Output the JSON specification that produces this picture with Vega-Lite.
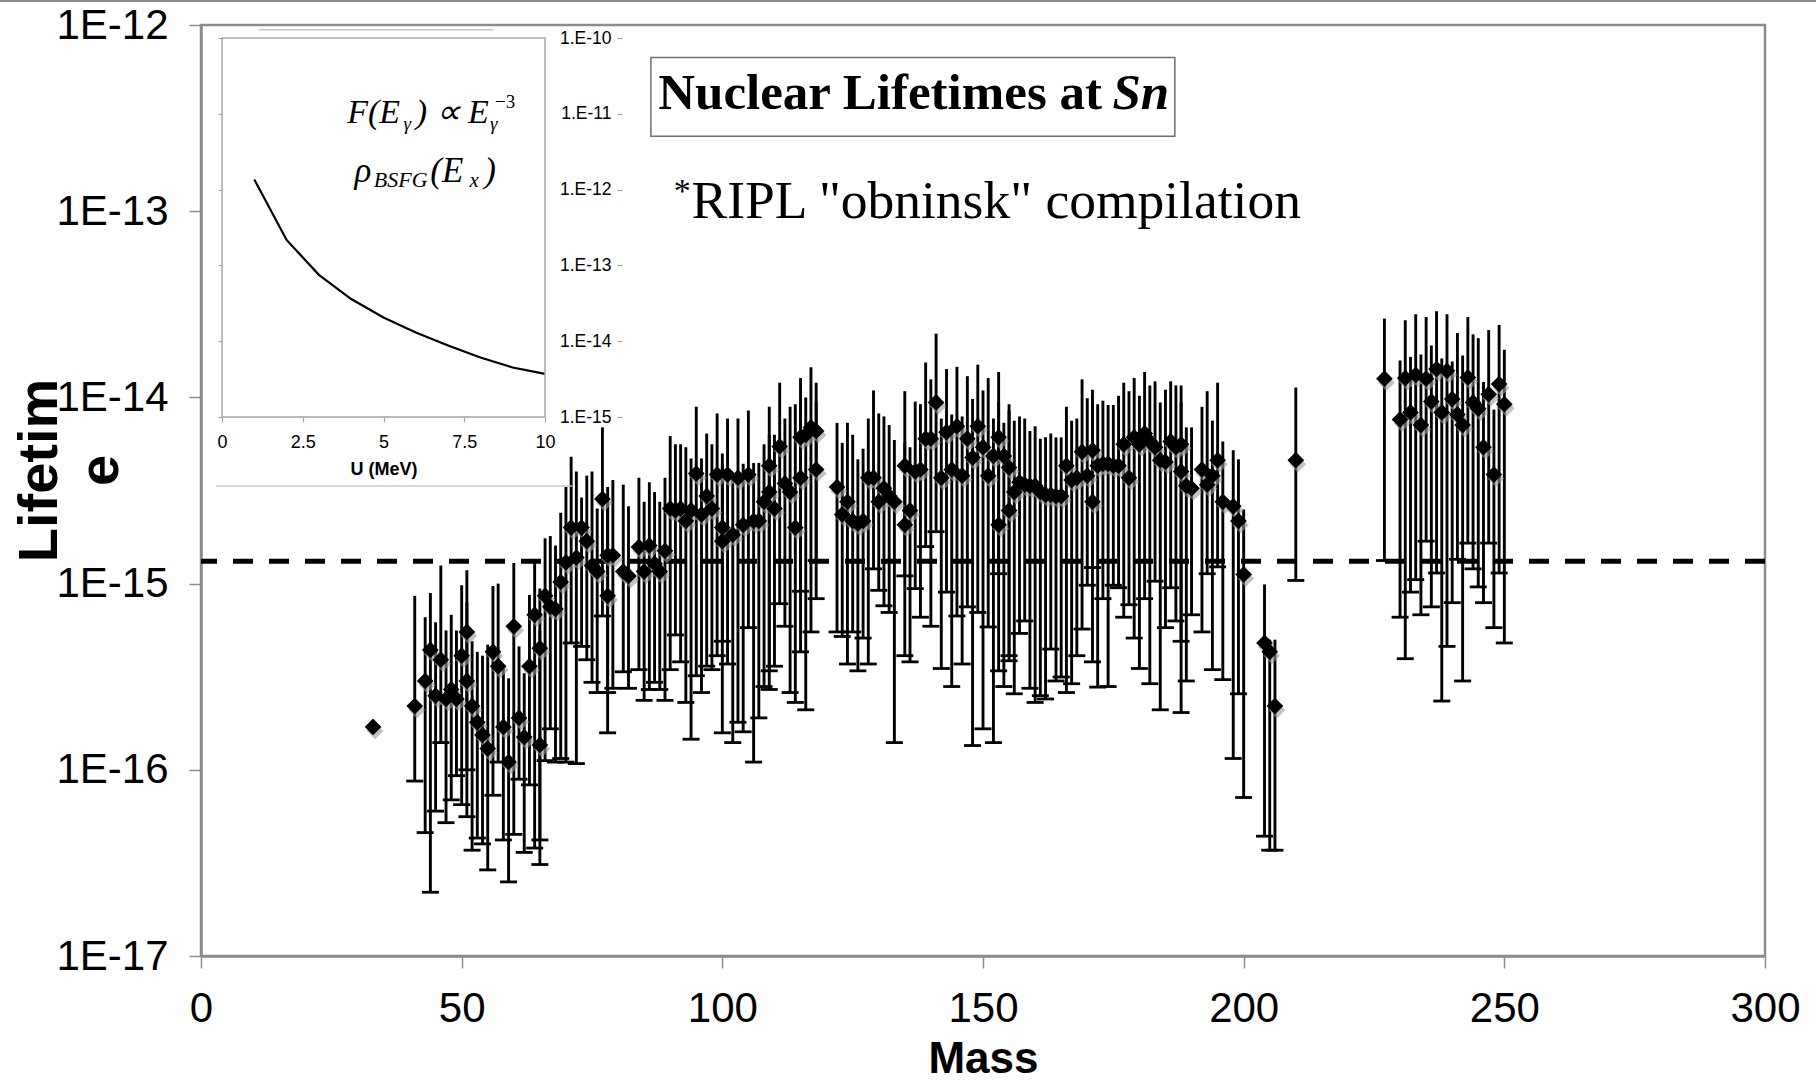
{
  "$schema": "https://vega.github.io/schema/vega-lite/v6.json",
  "width": 1564,
  "height": 931,
  "autosize": {"type": "none"},
  "padding": {"left": 201, "top": 25, "right": 51, "bottom": 126},
  "background": "white",
  "config": {
    "view": {"stroke": "#8c8c8c", "strokeWidth": 2.5},
    "axis": {"labelFont": "Liberation Sans", "titleFont": "Liberation Sans", "labelColor": "black", "titleColor": "black", "grid": false}
  },
  "datasets": {
    "lifetimes": [
      {"Mass":33,"Lifetime":1.7e-16,"Lower":null,"Upper":null},
      {"Mass":41,"Lifetime":2.2e-16,"Lower":8.7e-17,"Upper":8.6e-16},
      {"Mass":43,"Lifetime":3.0e-16,"Lower":4.6e-17,"Upper":6.6e-16},
      {"Mass":44,"Lifetime":4.4e-16,"Lower":2.2e-17,"Upper":8.9e-16},
      {"Mass":45,"Lifetime":2.5e-16,"Lower":6.0e-17,"Upper":6.2e-16},
      {"Mass":46,"Lifetime":3.9e-16,"Lower":1.4e-16,"Upper":1.25e-15},
      {"Mass":47,"Lifetime":2.4e-16,"Lower":5.2e-17,"Upper":5.6e-16},
      {"Mass":48,"Lifetime":2.7e-16,"Lower":6.9e-17,"Upper":6.8e-16},
      {"Mass":49,"Lifetime":2.4e-16,"Lower":9.3e-17,"Upper":5.6e-16},
      {"Mass":50,"Lifetime":4.1e-16,"Lower":6.5e-17,"Upper":9.8e-16},
      {"Mass":51,"Lifetime":5.5e-16,"Lower":5.6e-17,"Upper":1.18e-15},
      {"Mass":51,"Lifetime":3.0e-16,"Lower":1.0e-16,"Upper":7.9e-16},
      {"Mass":52,"Lifetime":2.2e-16,"Lower":3.7e-17,"Upper":4.9e-16},
      {"Mass":53,"Lifetime":1.8e-16,"Lower":4.3e-17,"Upper":4.3e-16},
      {"Mass":54,"Lifetime":1.54e-16,"Lower":4.0e-17,"Upper":4.1e-16},
      {"Mass":55,"Lifetime":1.3e-16,"Lower":2.9e-17,"Upper":4.7e-16},
      {"Mass":56,"Lifetime":4.3e-16,"Lower":7.3e-17,"Upper":9.7e-16},
      {"Mass":57,"Lifetime":3.6e-16,"Lower":1.1e-16,"Upper":1.0e-15},
      {"Mass":58,"Lifetime":1.7e-16,"Lower":4.2e-17,"Upper":3.5e-16},
      {"Mass":59,"Lifetime":1.1e-16,"Lower":2.5e-17,"Upper":3.1e-16},
      {"Mass":60,"Lifetime":5.9e-16,"Lower":4.5e-17,"Upper":1.29e-15},
      {"Mass":61,"Lifetime":1.9e-16,"Lower":8.9e-17,"Upper":4.6e-16},
      {"Mass":62,"Lifetime":1.5e-16,"Lower":3.6e-17,"Upper":3.3e-16},
      {"Mass":63,"Lifetime":3.6e-16,"Lower":8.3e-17,"Upper":8.7e-16},
      {"Mass":64,"Lifetime":6.8e-16,"Lower":3.8e-17,"Upper":1.34e-15},
      {"Mass":65,"Lifetime":4.5e-16,"Lower":3.1e-17,"Upper":9.4e-16},
      {"Mass":65,"Lifetime":1.36e-16,"Lower":4.2e-17,"Upper":5.6e-16},
      {"Mass":66,"Lifetime":8.6e-16,"Lower":1.12e-16,"Upper":1.75e-15},
      {"Mass":67,"Lifetime":7.5e-16,"Lower":1.66e-16,"Upper":1.8e-15},
      {"Mass":68,"Lifetime":7.3e-16,"Lower":1.1e-16,"Upper":1.6e-15},
      {"Mass":69,"Lifetime":1.02e-15,"Lower":1.15e-16,"Upper":2.4e-15},
      {"Mass":70,"Lifetime":1.3e-15,"Lower":1.1e-16,"Upper":3.3e-15},
      {"Mass":71,"Lifetime":2.0e-15,"Lower":4.8e-16,"Upper":4.8e-15},
      {"Mass":72,"Lifetime":1.38e-15,"Lower":1.08e-16,"Upper":4.0e-15},
      {"Mass":73,"Lifetime":2.0e-15,"Lower":4.6e-16,"Upper":2.9e-15},
      {"Mass":74,"Lifetime":1.69e-15,"Lower":3.9e-16,"Upper":3.8e-15},
      {"Mass":75,"Lifetime":1.25e-15,"Lower":2.95e-16,"Upper":4.0e-15},
      {"Mass":76,"Lifetime":1.16e-15,"Lower":2.6e-16,"Upper":2.53e-15},
      {"Mass":77,"Lifetime":2.85e-15,"Lower":6.7e-16,"Upper":6.9e-15},
      {"Mass":78,"Lifetime":8.6e-16,"Lower":1.58e-16,"Upper":2.75e-15},
      {"Mass":78,"Lifetime":1.42e-15,"Lower":2.6e-16,"Upper":3.3e-15},
      {"Mass":79,"Lifetime":1.42e-15,"Lower":2.74e-16,"Upper":3.6e-15},
      {"Mass":81,"Lifetime":1.16e-15,"Lower":3.36e-16,"Upper":3.4e-15},
      {"Mass":82,"Lifetime":1.1e-15,"Lower":2.74e-16,"Upper":2.6e-15},
      {"Mass":84,"Lifetime":1.57e-15,"Lower":3.45e-16,"Upper":3.7e-15},
      {"Mass":85,"Lifetime":1.16e-15,"Lower":2.36e-16,"Upper":2.75e-15},
      {"Mass":86,"Lifetime":1.6e-15,"Lower":2.7e-16,"Upper":3.5e-15},
      {"Mass":87,"Lifetime":1.28e-15,"Lower":2.95e-16,"Upper":3.1e-15},
      {"Mass":88,"Lifetime":1.16e-15,"Lower":2.7e-16,"Upper":2.75e-15},
      {"Mass":89,"Lifetime":1.5e-15,"Lower":2.36e-16,"Upper":3.7e-15},
      {"Mass":90,"Lifetime":2.53e-15,"Lower":3.45e-16,"Upper":6.2e-15},
      {"Mass":91,"Lifetime":2.47e-15,"Lower":5.3e-16,"Upper":5.6e-15},
      {"Mass":92,"Lifetime":2.53e-15,"Lower":3.8e-16,"Upper":5.6e-15},
      {"Mass":93,"Lifetime":2.17e-15,"Lower":2.3e-16,"Upper":5.4e-15},
      {"Mass":94,"Lifetime":2.47e-15,"Lower":1.46e-16,"Upper":4.7e-15},
      {"Mass":95,"Lifetime":3.9e-15,"Lower":3.2e-16,"Upper":8.9e-15},
      {"Mass":96,"Lifetime":2.35e-15,"Lower":2.6e-16,"Upper":4.7e-15},
      {"Mass":97,"Lifetime":2.95e-15,"Lower":3.6e-16,"Upper":6.4e-15},
      {"Mass":98,"Lifetime":2.53e-15,"Lower":3.45e-16,"Upper":5.6e-15},
      {"Mass":99,"Lifetime":3.85e-15,"Lower":4.1e-16,"Upper":8.2e-15},
      {"Mass":100,"Lifetime":2.0e-15,"Lower":1.58e-16,"Upper":5.0e-15},
      {"Mass":100,"Lifetime":1.69e-15,"Lower":4.9e-16,"Upper":4.4e-15},
      {"Mass":101,"Lifetime":3.85e-15,"Lower":3.7e-16,"Upper":7.7e-15},
      {"Mass":102,"Lifetime":1.83e-15,"Lower":1.4e-16,"Upper":3.6e-15},
      {"Mass":103,"Lifetime":3.7e-15,"Lower":1.8e-16,"Upper":7.7e-15},
      {"Mass":104,"Lifetime":2.07e-15,"Lower":1.6e-16,"Upper":4.4e-15},
      {"Mass":105,"Lifetime":3.85e-15,"Lower":5.8e-16,"Upper":8.5e-15},
      {"Mass":106,"Lifetime":2.17e-15,"Lower":1.1e-16,"Upper":4.45e-15},
      {"Mass":107,"Lifetime":2.17e-15,"Lower":1.9e-16,"Upper":4.45e-15},
      {"Mass":108,"Lifetime":2.75e-15,"Lower":2.8e-16,"Upper":5.6e-15},
      {"Mass":109,"Lifetime":4.3e-15,"Lower":2.7e-16,"Upper":8.9e-15},
      {"Mass":109,"Lifetime":3.1e-15,"Lower":3.4e-16,"Upper":6.3e-15},
      {"Mass":110,"Lifetime":2.53e-15,"Lower":3.6e-16,"Upper":6.3e-15},
      {"Mass":111,"Lifetime":5.45e-15,"Lower":7.8e-16,"Upper":1.2e-14},
      {"Mass":112,"Lifetime":3.45e-15,"Lower":5.9e-16,"Upper":7.7e-15},
      {"Mass":113,"Lifetime":3.1e-15,"Lower":2.6e-16,"Upper":8.9e-15},
      {"Mass":114,"Lifetime":2.0e-15,"Lower":2.3e-16,"Upper":9.2e-15},
      {"Mass":115,"Lifetime":6.1e-15,"Lower":9.1e-16,"Upper":1.27e-14},
      {"Mass":115,"Lifetime":3.7e-15,"Lower":4.3e-16,"Upper":9.4e-15},
      {"Mass":116,"Lifetime":6.3e-15,"Lower":2.1e-16,"Upper":1.0e-14},
      {"Mass":117,"Lifetime":6.9e-15,"Lower":5.5e-16,"Upper":1.45e-14},
      {"Mass":118,"Lifetime":4.1e-15,"Lower":1.33e-15,"Upper":9.5e-15},
      {"Mass":118,"Lifetime":6.6e-15,"Lower":8.3e-16,"Upper":1.2e-14},
      {"Mass":122,"Lifetime":3.3e-15,"Lower":5.5e-16,"Upper":7.3e-15},
      {"Mass":123,"Lifetime":2.35e-15,"Lower":5.2e-16,"Upper":5.7e-15},
      {"Mass":124,"Lifetime":2.75e-15,"Lower":3.7e-16,"Upper":7.3e-15},
      {"Mass":125,"Lifetime":2.17e-15,"Lower":5.5e-16,"Upper":6.3e-15},
      {"Mass":126,"Lifetime":2.1e-15,"Lower":3.4e-16,"Upper":4.65e-15},
      {"Mass":127,"Lifetime":2.17e-15,"Lower":5.1e-16,"Upper":5.3e-15},
      {"Mass":128,"Lifetime":3.7e-15,"Lower":3.7e-16,"Upper":7.7e-15},
      {"Mass":129,"Lifetime":3.7e-15,"Lower":1.2e-15,"Upper":1.09e-14},
      {"Mass":130,"Lifetime":2.75e-15,"Lower":9.2e-16,"Upper":8.2e-15},
      {"Mass":131,"Lifetime":3.25e-15,"Lower":7.6e-16,"Upper":7.9e-15},
      {"Mass":132,"Lifetime":2.95e-15,"Lower":7.0e-16,"Upper":7.1e-15},
      {"Mass":133,"Lifetime":2.75e-15,"Lower":1.4e-16,"Upper":5.9e-15},
      {"Mass":135,"Lifetime":4.3e-15,"Lower":1.1e-15,"Upper":1.08e-14},
      {"Mass":135,"Lifetime":2.07e-15,"Lower":4.1e-16,"Upper":5.7e-15},
      {"Mass":136,"Lifetime":2.47e-15,"Lower":3.8e-16,"Upper":5.4e-15},
      {"Mass":137,"Lifetime":4.0e-15,"Lower":9.4e-16,"Upper":9.5e-15},
      {"Mass":138,"Lifetime":4.1e-15,"Lower":6.6e-16,"Upper":9.2e-15},
      {"Mass":139,"Lifetime":6.0e-15,"Lower":1.58e-15,"Upper":1.54e-14},
      {"Mass":140,"Lifetime":6.0e-15,"Lower":5.9e-16,"Upper":1.25e-14},
      {"Mass":141,"Lifetime":9.4e-15,"Lower":1.9e-15,"Upper":2.2e-14},
      {"Mass":142,"Lifetime":3.7e-15,"Lower":3.5e-16,"Upper":7.7e-15},
      {"Mass":143,"Lifetime":6.5e-15,"Lower":9.0e-16,"Upper":1.42e-14},
      {"Mass":144,"Lifetime":4.1e-15,"Lower":2.8e-16,"Upper":8.1e-15},
      {"Mass":145,"Lifetime":7.0e-15,"Lower":6.7e-16,"Upper":1.46e-14},
      {"Mass":146,"Lifetime":3.8e-15,"Lower":3.7e-16,"Upper":7.9e-15},
      {"Mass":147,"Lifetime":6.0e-15,"Lower":7.5e-16,"Upper":1.3e-14},
      {"Mass":148,"Lifetime":4.75e-15,"Lower":1.35e-16,"Upper":9.8e-15},
      {"Mass":149,"Lifetime":7.0e-15,"Lower":7.0e-16,"Upper":1.5e-14},
      {"Mass":150,"Lifetime":5.4e-15,"Lower":1.66e-16,"Upper":1.09e-14},
      {"Mass":151,"Lifetime":3.8e-15,"Lower":5.85e-16,"Upper":1.27e-14},
      {"Mass":152,"Lifetime":4.85e-15,"Lower":1.4e-16,"Upper":7.7e-15},
      {"Mass":153,"Lifetime":6.1e-15,"Lower":3.4e-16,"Upper":1.37e-14},
      {"Mass":153,"Lifetime":2.07e-15,"Lower":1.13e-15,"Upper":9.4e-15},
      {"Mass":154,"Lifetime":4.85e-15,"Lower":2.8e-16,"Upper":7.3e-15},
      {"Mass":155,"Lifetime":4.2e-15,"Lower":3.85e-16,"Upper":9.2e-15},
      {"Mass":155,"Lifetime":2.47e-15,"Lower":4.1e-16,"Upper":8.5e-15},
      {"Mass":156,"Lifetime":3.1e-15,"Lower":2.56e-16,"Upper":7.5e-15},
      {"Mass":157,"Lifetime":3.5e-15,"Lower":5.4e-16,"Upper":7.9e-15},
      {"Mass":158,"Lifetime":3.4e-15,"Lower":6.3e-16,"Upper":7.7e-15},
      {"Mass":159,"Lifetime":3.35e-15,"Lower":2.74e-16,"Upper":6.6e-15},
      {"Mass":160,"Lifetime":3.35e-15,"Lower":2.3e-16,"Upper":7.0e-15},
      {"Mass":161,"Lifetime":3.1e-15,"Lower":2.5e-16,"Upper":6.0e-15},
      {"Mass":162,"Lifetime":3.0e-15,"Lower":2.4e-16,"Upper":6.1e-15},
      {"Mass":163,"Lifetime":3.0e-15,"Lower":4.45e-16,"Upper":6.4e-15},
      {"Mass":164,"Lifetime":2.95e-15,"Lower":3.0e-16,"Upper":6.1e-15},
      {"Mass":165,"Lifetime":2.95e-15,"Lower":3.15e-16,"Upper":6.1e-15},
      {"Mass":166,"Lifetime":4.3e-15,"Lower":2.6e-16,"Upper":8.9e-15},
      {"Mass":167,"Lifetime":3.6e-15,"Lower":2.9e-16,"Upper":7.5e-15},
      {"Mass":168,"Lifetime":3.7e-15,"Lower":4.1e-16,"Upper":7.7e-15},
      {"Mass":169,"Lifetime":5.1e-15,"Lower":5.7e-16,"Upper":1.25e-14},
      {"Mass":170,"Lifetime":3.8e-15,"Lower":9.8e-16,"Upper":9.9e-15},
      {"Mass":171,"Lifetime":5.2e-15,"Lower":3.8e-16,"Upper":1.1e-14},
      {"Mass":171,"Lifetime":2.75e-15,"Lower":1.22e-15,"Upper":9.4e-15},
      {"Mass":172,"Lifetime":4.3e-15,"Lower":2.78e-16,"Upper":9.2e-15},
      {"Mass":173,"Lifetime":4.4e-15,"Lower":8.3e-16,"Upper":9.6e-15},
      {"Mass":174,"Lifetime":4.4e-15,"Lower":2.8e-16,"Upper":9.1e-15},
      {"Mass":175,"Lifetime":4.3e-15,"Lower":9.8e-16,"Upper":9.1e-15},
      {"Mass":176,"Lifetime":4.3e-15,"Lower":9.5e-16,"Upper":1.02e-14},
      {"Mass":177,"Lifetime":5.6e-15,"Lower":6.6e-16,"Upper":1.2e-14},
      {"Mass":178,"Lifetime":3.7e-15,"Lower":7.7e-16,"Upper":1.08e-14},
      {"Mass":179,"Lifetime":6.1e-15,"Lower":5.1e-16,"Upper":1.27e-14},
      {"Mass":180,"Lifetime":5.6e-15,"Lower":3.5e-16,"Upper":1.02e-14},
      {"Mass":181,"Lifetime":6.4e-15,"Lower":8.3e-16,"Upper":1.37e-14},
      {"Mass":182,"Lifetime":5.8e-15,"Lower":2.9e-16,"Upper":1.16e-14},
      {"Mass":183,"Lifetime":5.4e-15,"Lower":1.03e-15,"Upper":1.22e-14},
      {"Mass":184,"Lifetime":4.6e-15,"Lower":2.1e-16,"Upper":9.4e-15},
      {"Mass":185,"Lifetime":4.5e-15,"Lower":5.8e-16,"Upper":1.1e-14},
      {"Mass":186,"Lifetime":5.8e-15,"Lower":9.5e-16,"Upper":1.22e-14},
      {"Mass":187,"Lifetime":5.4e-15,"Lower":6.3e-16,"Upper":1.16e-14},
      {"Mass":188,"Lifetime":5.6e-15,"Lower":4.9e-16,"Upper":1.16e-14},
      {"Mass":188,"Lifetime":4.0e-15,"Lower":2.03e-16,"Upper":9.4e-15},
      {"Mass":189,"Lifetime":3.35e-15,"Lower":3.0e-16,"Upper":6.9e-15},
      {"Mass":190,"Lifetime":3.25e-15,"Lower":6.8e-16,"Upper":6.9e-15},
      {"Mass":192,"Lifetime":4.1e-15,"Lower":5.5e-16,"Upper":8.9e-15},
      {"Mass":193,"Lifetime":3.4e-15,"Lower":1.13e-15,"Upper":1.08e-14},
      {"Mass":194,"Lifetime":3.8e-15,"Lower":3.45e-16,"Upper":7.5e-15},
      {"Mass":195,"Lifetime":4.6e-15,"Lower":1.23e-15,"Upper":1.2e-14},
      {"Mass":196,"Lifetime":2.75e-15,"Lower":3.05e-16,"Upper":5.8e-15},
      {"Mass":198,"Lifetime":2.6e-15,"Lower":1.15e-16,"Upper":5.2e-15},
      {"Mass":199,"Lifetime":2.17e-15,"Lower":2.56e-16,"Upper":4.65e-15},
      {"Mass":200,"Lifetime":1.12e-15,"Lower":7.1e-17,"Upper":2.5e-15},
      {"Mass":204,"Lifetime":4.8e-16,"Lower":4.4e-17,"Upper":9.9e-16},
      {"Mass":205,"Lifetime":4.3e-16,"Lower":3.7e-17,"Upper":5.0e-16},
      {"Mass":206,"Lifetime":2.2e-16,"Lower":3.7e-17,"Upper":5.0e-16},
      {"Mass":210,"Lifetime":4.6e-15,"Lower":1.04e-15,"Upper":1.13e-14},
      {"Mass":227,"Lifetime":1.26e-14,"Lower":1.33e-15,"Upper":2.65e-14},
      {"Mass":230,"Lifetime":7.6e-15,"Lower":6.6e-16,"Upper":1.58e-14},
      {"Mass":231,"Lifetime":1.27e-14,"Lower":3.95e-16,"Upper":2.6e-14},
      {"Mass":232,"Lifetime":8.3e-15,"Lower":9.0e-16,"Upper":1.65e-14},
      {"Mass":233,"Lifetime":1.32e-14,"Lower":1.05e-15,"Upper":2.8e-14},
      {"Mass":234,"Lifetime":7.1e-15,"Lower":6.8e-16,"Upper":1.7e-14},
      {"Mass":235,"Lifetime":1.26e-14,"Lower":1.69e-15,"Upper":2.7e-14},
      {"Mass":236,"Lifetime":9.5e-15,"Lower":7.5e-16,"Upper":1.9e-14},
      {"Mass":237,"Lifetime":1.42e-14,"Lower":1.14e-15,"Upper":2.9e-14},
      {"Mass":238,"Lifetime":8.3e-15,"Lower":2.34e-16,"Upper":1.62e-14},
      {"Mass":239,"Lifetime":1.39e-14,"Lower":4.6e-16,"Upper":2.8e-14},
      {"Mass":240,"Lifetime":9.8e-15,"Lower":7.9e-16,"Upper":1.56e-14},
      {"Mass":241,"Lifetime":8.1e-15,"Lower":1.35e-15,"Upper":2.22e-14},
      {"Mass":242,"Lifetime":7.1e-15,"Lower":3.0e-16,"Upper":1.68e-14},
      {"Mass":243,"Lifetime":1.28e-14,"Lower":1.65e-15,"Upper":2.7e-14},
      {"Mass":244,"Lifetime":9.4e-15,"Lower":1.2e-15,"Upper":2.18e-14},
      {"Mass":245,"Lifetime":8.7e-15,"Lower":9.6e-16,"Upper":2.08e-14},
      {"Mass":246,"Lifetime":5.4e-15,"Lower":7.9e-16,"Upper":1.21e-14},
      {"Mass":247,"Lifetime":1.04e-14,"Lower":1.65e-15,"Upper":2.3e-14},
      {"Mass":248,"Lifetime":3.85e-15,"Lower":5.8e-16,"Upper":8.6e-15},
      {"Mass":249,"Lifetime":1.18e-14,"Lower":1.14e-15,"Upper":2.45e-14},
      {"Mass":250,"Lifetime":9.2e-15,"Lower":4.8e-16,"Upper":1.8e-14}
    ],
    "inset": [
      {"U":1,"F":1.36e-12},
      {"U":2,"F":2.17e-13},
      {"U":3,"F":7.5e-14},
      {"U":4,"F":3.6e-14},
      {"U":5,"F":2.06e-14},
      {"U":6,"F":1.3e-14},
      {"U":7,"F":8.8e-15},
      {"U":8,"F":6.1e-15},
      {"U":9,"F":4.5e-15},
      {"U":10,"F":3.7e-15}
    ]
  },
  "resolve": {
    "scale": {"x": "independent", "y": "independent"},
    "axis": {"x": "independent", "y": "independent"}
  },
  "layer": [
    {
      "data": {"name": "lifetimes"},
      "layer": [
        {
          "mark": {"type": "rule", "color": "black", "strokeWidth": 2.9},
          "encoding": {
            "x": {
              "field": "Mass", "type": "quantitative",
              "scale": {"domain": [0, 300], "nice": false, "zero": false},
              "axis": {
                "orient": "bottom", "title": "Mass",
                "values": [0, 50, 100, 150, 200, 250, 300],
                "labelFontSize": 42, "labelPadding": 20, "labelFlush": false, "labelOverlap": false,
                "tickSize": 12, "tickColor": "#8c8c8c", "tickWidth": 1.5,
                "domainColor": "#8c8c8c", "domainWidth": 2.5,
                "titleFontSize": 44, "titleFontWeight": "bold", "titleBaseline": "alphabetic", "titleY": 116
              }
            },
            "y": {
              "field": "Lower", "type": "quantitative",
              "scale": {"type": "log", "domain": [1e-17, 1e-12], "nice": false},
              "axis": {
                "orient": "left", "title": ["Lifetim", "e"],
                "values": [1e-17, 1e-16, 1e-15, 1e-14, 1e-13, 1e-12],
                "labelExpr": "'1E' + round(log(datum.value) / LN10)",
                "labelFontSize": 42, "labelPadding": 21, "labelFlush": false, "labelOverlap": false,
                "tickSize": 12, "tickColor": "#8c8c8c", "tickWidth": 1.5,
                "domainColor": "#8c8c8c", "domainWidth": 2.5,
                "titleFontSize": 56, "titleFontWeight": "bold", "titleAngle": -90,
                "titleAlign": "center", "titleBaseline": "top", "titleLineHeight": 61,
                "titleX": -189, "titleY": 445
              }
            },
            "y2": {"field": "Upper"}
          }
        },
        {
          "mark": {"type": "tick", "orient": "horizontal", "size": 17, "thickness": 2.8, "color": "black", "opacity": 1},
          "encoding": {
            "x": {"field": "Mass", "type": "quantitative"},
            "y": {"field": "Lower", "type": "quantitative"}
          }
        },
        {
          "data": {"values": [{}]},
          "mark": {"type": "rule", "color": "black", "strokeWidth": 5, "strokeDash": [20, 16]},
          "encoding": {"y": {"datum": 1.32e-15}}
        },
        {
          "mark": {"type": "point", "shape": "diamond", "filled": true, "size": 280, "color": "#9a9a9a", "opacity": 0.6, "xOffset": 2, "yOffset": 4},
          "encoding": {
            "x": {"field": "Mass", "type": "quantitative"},
            "y": {"field": "Lifetime", "type": "quantitative"}
          }
        },
        {
          "mark": {"type": "point", "shape": "diamond", "filled": true, "size": 280, "color": "black", "opacity": 1},
          "encoding": {
            "x": {"field": "Mass", "type": "quantitative"},
            "y": {"field": "Lifetime", "type": "quantitative"}
          }
        },
        {
          "data": {"values": [{}]},
          "mark": {"type": "rect", "fill": "transparent", "stroke": "#6e6e6e", "strokeWidth": 1.5},
          "encoding": {
            "x": {"datum": 86.3}, "x2": {"datum": 186.8},
            "y": {"datum": 6.7e-13}, "y2": {"datum": 2.53e-13}
          }
        },
        {
          "data": {"values": [{}]},
          "mark": {"type": "text", "text": "Nuclear Lifetimes at", "font": "Liberation Serif", "fontSize": 51, "fontWeight": "bold", "align": "left", "baseline": "alphabetic", "color": "black"},
          "encoding": {"x": {"datum": 87.7}, "y": {"datum": 3.53e-13}}
        },
        {
          "data": {"values": [{}]},
          "mark": {"type": "text", "text": "Sn", "font": "Liberation Serif", "fontSize": 51, "fontWeight": "bold", "fontStyle": "italic", "align": "right", "baseline": "alphabetic", "color": "black"},
          "encoding": {"x": {"datum": 185.7}, "y": {"datum": 3.53e-13}}
        },
        {
          "data": {"values": [{}]},
          "mark": {"type": "text", "text": "*", "font": "Liberation Serif", "fontSize": 34, "align": "left", "baseline": "alphabetic", "color": "black"},
          "encoding": {"x": {"datum": 90.66}, "y": {"datum": 1.12e-13}}
        },
        {
          "data": {"values": [{}]},
          "mark": {"type": "text", "text": "RIPL \"obninsk\" compilation", "font": "Liberation Serif", "fontSize": 53.5, "align": "left", "baseline": "alphabetic", "color": "black"},
          "encoding": {"x": {"datum": 94.1}, "y": {"datum": 9.16e-14}}
        },
        {
          "data": {"values": [{}]},
          "mark": {"type": "rule", "color": "#8c8c8c", "strokeWidth": 2},
          "encoding": {
            "x": {"datum": -38.6}, "x2": {"datum": 309.8},
            "y": {"datum": 1.345e-12}
          }
        }
      ]
    },
    {
      "data": {"name": "inset"},
      "layer": [
        {
          "mark": {"type": "line", "color": "black", "strokeWidth": 2.2},
          "encoding": {
            "x": {
              "field": "U", "type": "quantitative",
              "scale": {"domain": [0, 10], "range": [21, 344], "nice": false, "zero": false},
              "axis": {
                "orient": "bottom", "offset": -539, "title": "U (MeV)",
                "values": [0, 2.5, 5, 7.5, 10],
                "labelExpr": "'' + datum.value",
                "labelFontSize": 18, "labelPadding": 11, "labelFlush": false, "labelOverlap": false,
                "tickSize": 5, "tickColor": "#a6a6a6", "tickWidth": 1.2, "domain": false,
                "titleFontSize": 18, "titleFontWeight": "bold", "titleBaseline": "top", "titleX": 182.5, "titleY": 43
              }
            },
            "y": {
              "field": "F", "type": "quantitative",
              "scale": {"type": "log", "domain": [1e-15, 1e-10], "range": [392, 13], "nice": false},
              "axis": {
                "orient": "left", "offset": -21, "title": null,
                "values": [1e-15, 1e-14, 1e-13, 1e-12, 1e-11, 1e-10],
                "labels": false, "tickSize": 4, "tickColor": "#a6a6a6", "tickWidth": 1.2, "domain": false
              }
            }
          }
        },
        {
          "data": {"values": [{}]},
          "mark": {"type": "rect", "fill": "transparent", "stroke": "#a6a6a6", "strokeWidth": 1.5},
          "encoding": {
            "x": {"datum": 0}, "x2": {"datum": 10},
            "y": {"datum": 1e-15}, "y2": {"datum": 1e-10}
          }
        },
        {
          "data": {"values": [{}]},
          "mark": {"type": "rule", "color": "#c8c8c8", "strokeWidth": 1.5},
          "encoding": {"x": {"datum": -0.19}, "x2": {"datum": 10.84}, "y": {"datum": 1.23e-16}}
        },
        {
          "data": {"values": [{}]},
          "mark": {"type": "rule", "color": "#c8c8c8", "strokeWidth": 1.5},
          "encoding": {"x": {"datum": 1.15}, "x2": {"datum": 8.4}, "y": {"datum": 1.28e-10}}
        },
        {
          "data": {"values": [{}]},
          "mark": {"type": "text", "text": "F(E", "font": "Liberation Serif", "fontStyle": "italic", "fontSize": 34, "align": "left", "baseline": "alphabetic", "color": "black"},
          "encoding": {"x": {"datum": 3.876}, "y": {"datum": 7.63e-12}}
        },
        {
          "data": {"values": [{}]},
          "mark": {"type": "text", "text": "γ", "font": "Liberation Serif", "fontStyle": "italic", "fontSize": 19, "align": "left", "baseline": "alphabetic", "color": "black"},
          "encoding": {"x": {"datum": 5.62}, "y": {"datum": 6.19e-12}}
        },
        {
          "data": {"values": [{}]},
          "mark": {"type": "text", "text": ") ∝ E", "font": "Liberation Serif", "fontStyle": "italic", "fontSize": 34, "align": "left", "baseline": "alphabetic", "color": "black"},
          "encoding": {"x": {"datum": 6.0}, "y": {"datum": 7.63e-12}}
        },
        {
          "data": {"values": [{}]},
          "mark": {"type": "text", "text": "γ", "font": "Liberation Serif", "fontStyle": "italic", "fontSize": 19, "align": "left", "baseline": "alphabetic", "color": "black"},
          "encoding": {"x": {"datum": 8.3}, "y": {"datum": 6.19e-12}}
        },
        {
          "data": {"values": [{}]},
          "mark": {"type": "text", "text": "−3", "font": "Liberation Serif", "fontSize": 19, "align": "left", "baseline": "alphabetic", "color": "black"},
          "encoding": {"x": {"datum": 8.45}, "y": {"datum": 1.19e-11}}
        },
        {
          "data": {"values": [{}]},
          "mark": {"type": "text", "text": "ρ", "font": "Liberation Serif", "fontStyle": "italic", "fontSize": 35, "align": "left", "baseline": "alphabetic", "color": "black"},
          "encoding": {"x": {"datum": 4.1}, "y": {"datum": 1.27e-12}}
        },
        {
          "data": {"values": [{}]},
          "mark": {"type": "text", "text": "BSFG", "font": "Liberation Serif", "fontStyle": "italic", "fontSize": 22, "align": "left", "baseline": "alphabetic", "color": "black"},
          "encoding": {"x": {"datum": 4.7}, "y": {"datum": 1.09e-12}}
        },
        {
          "data": {"values": [{}]},
          "mark": {"type": "text", "text": "(E", "font": "Liberation Serif", "fontStyle": "italic", "fontSize": 35, "align": "left", "baseline": "alphabetic", "color": "black"},
          "encoding": {"x": {"datum": 6.45}, "y": {"datum": 1.27e-12}}
        },
        {
          "data": {"values": [{}]},
          "mark": {"type": "text", "text": "x", "font": "Liberation Serif", "fontStyle": "italic", "fontSize": 21, "align": "left", "baseline": "alphabetic", "color": "black"},
          "encoding": {"x": {"datum": 7.66}, "y": {"datum": 1.09e-12}}
        },
        {
          "data": {"values": [{}]},
          "mark": {"type": "text", "text": ")", "font": "Liberation Serif", "fontStyle": "italic", "fontSize": 35, "align": "left", "baseline": "alphabetic", "color": "black"},
          "encoding": {"x": {"datum": 8.12}, "y": {"datum": 1.27e-12}}
        }
      ]
    },
    {
      "data": {"values": [{}]},
      "mark": {"type": "point", "opacity": 0},
      "encoding": {
        "x": {
          "datum": 5, "type": "quantitative",
          "scale": {"domain": [0, 10], "range": [21, 344], "nice": false, "zero": false},
          "axis": null
        },
        "y": {
          "datum": 1e-12, "type": "quantitative",
          "scale": {"type": "log", "domain": [1e-15, 1e-10], "range": [392, 13], "nice": false},
          "axis": {
            "orient": "left", "offset": -421, "title": null,
            "values": [1e-15, 1e-14, 1e-13, 1e-12, 1e-11, 1e-10],
            "labelExpr": "'1.E' + round(log(datum.value) / LN10)",
            "labelFontSize": 17.5, "labelPadding": 6, "labelFlush": false, "labelOverlap": false,
            "tickSize": 5, "tickColor": "#a6a6a6", "tickWidth": 1.2, "domain": false
          }
        }
      }
    }
  ]
}
